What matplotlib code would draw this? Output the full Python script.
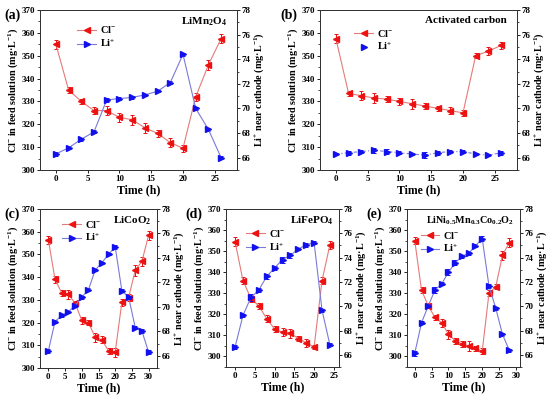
import matplotlib.pyplot as plt
from matplotlib.ticker import AutoMinorLocator
from matplotlib.lines import Line2D
import numpy as np

plt.rcParams['font.family'] = ['Liberation Serif', 'DejaVu Serif']
plt.rcParams['font.weight'] = 'bold'
plt.rcParams['mathtext.fontset'] = 'custom'
plt.rcParams['mathtext.rm'] = 'Liberation Serif:bold'
plt.rcParams['mathtext.it'] = 'Liberation Serif:bold'
plt.rcParams['mathtext.bf'] = 'Liberation Serif:bold'
plt.rcParams['mathtext.default'] = 'rm'

# --- data ---
t_a = [0, 2, 4, 6, 8, 10, 12, 14, 16, 18, 20, 22, 24, 26]
cl_a = [355, 335, 330, 326, 326, 323, 322, 318.5, 316, 312, 309.5, 332, 346, 357.5]
cl_a_err = [2, 1.2, 1.2, 1.5, 1.8, 1.8, 2.2, 2.2, 1.6, 1.8, 1.6, 1.8, 2.2, 1.8]
li_a = [66.3, 66.8, 67.5, 68.1, 70.7, 70.8, 70.9, 71.1, 71.4, 72.1, 74.4, 70.0, 68.3, 66.0]
li_a_err = [0.15, 0.12, 0.12, 0.12, 0.15, 0.1, 0.1, 0.1, 0.1, 0.1, 0.1, 0.12, 0.12, 0.12]

t_b = [0, 2, 4, 6, 8, 10, 12, 14, 16, 18, 20, 22, 24, 26]
cl_b = [357.5, 333.5, 332.5, 331.5, 331, 330, 329, 328, 327, 326, 325, 350, 352, 354.5]
cl_b_err = [2, 1.2, 2, 2.2, 1.2, 1.5, 2.2, 1.2, 1.2, 1.5, 1.2, 1, 1.8, 1.5]
li_b = [66.3, 66.4, 66.5, 66.6, 66.5, 66.4, 66.3, 66.2, 66.4, 66.5, 66.5, 66.3, 66.2, 66.4]
li_b_err = [0.12, 0.15, 0.12, 0.2, 0.2, 0.12, 0.1, 0.25, 0.15, 0.12, 0.12, 0.12, 0.1, 0.15]

t_c = [0, 2, 4, 6, 8, 10, 12, 14, 16, 18, 20, 22, 24, 26, 28, 30]
cl_c = [356.5, 339, 333, 332.5, 328.5, 321, 320, 313.5, 312.5, 307.5, 307, 329, 331, 343, 347, 358.5]
cl_c_err = [1.8, 1.5, 1.2, 2, 1.2, 1.5, 1.2, 2, 1.5, 1.5, 2, 1.5, 1.5, 2.5, 2, 2]
li_c = [66.4, 68.8, 69.3, 69.6, 70.1, 70.8, 71.4, 73.0, 73.6, 74.3, 74.9, 71.3, 70.8, 68.3, 68.0, 66.3]
li_c_err = [0.15, 0.12, 0.1, 0.1, 0.1, 0.12, 0.12, 0.1, 0.1, 0.1, 0.15, 0.12, 0.12, 0.12, 0.15, 0.15]

t_d = [0, 2, 4, 6, 8, 10, 12, 14, 16, 18, 20, 22, 24]
cl_d = [354.5, 336, 327.5, 324, 318, 313, 311.5, 311, 308.5, 306.5, 304.5, 336, 353]
cl_d_err = [2.2, 1.5, 1.5, 1.5, 1.8, 1.5, 2, 2, 1.2, 2, 1, 1.5, 2]
li_d = [66.65, 69.25, 70.72, 71.33, 72.45, 73.15, 73.84, 74.19, 74.71, 75.05, 75.23, 69.68, 66.82]
li_d_err = [0.15, 0.12, 0.25, 0.15, 0.2, 0.15, 0.25, 0.2, 0.12, 0.15, 0.15, 0.12, 0.12]

t_e = [0, 2, 4, 6, 8, 10, 12, 14, 16, 18, 20, 22, 24, 26, 28]
cl_e = [355, 331.5, 324, 318.5, 316, 310.5, 307.5, 306, 305, 304, 302.5, 330, 333, 348, 354]
cl_e_err = [1.5, 1.5, 1.2, 1.2, 2, 2, 1.5, 1.5, 2.5, 1.2, 1.5, 1.5, 1.2, 2, 2]
li_e = [66.13, 68.64, 70.03, 71.33, 71.85, 72.80, 73.58, 74.10, 74.36, 74.97, 75.57, 71.67, 69.85, 67.69, 66.39]
li_e_err = [0.2, 0.12, 0.12, 0.25, 0.12, 0.25, 0.2, 0.12, 0.12, 0.12, 0.2, 0.15, 0.12, 0.12, 0.12]

red_line = '#e57a7a'
red_mark = '#ee1111'
blue_line = '#7a7ad8'
blue_mark = '#1111ee'

W, H = 550, 398
fig = plt.figure(figsize=(5.5, 3.98), dpi=100)


def box(x0, x1, ytop, ybot):
    return [x0 / W, 1 - ybot / H, (x1 - x0) / W, (ybot - ytop) / H]


def draw_panel(rect, t, cl, cl_err, li, li_err, name, tag, tag_xy,
               xlim, xticks, ylim_l, leg_xy, li_style='-', name_size=8):
    ax = fig.add_axes(rect)
    ax2 = ax.twinx()

    ax.errorbar(t, cl, yerr=cl_err, fmt='<-', color=red_line, lw=0.8,
                mfc=red_mark, mec=red_mark, ms=4, ecolor=red_mark,
                elinewidth=0.7, capsize=1.5, capthick=0.7, zorder=3)
    ax2.errorbar(t, li, yerr=li_err, fmt='>', linestyle=li_style, color=blue_line, lw=0.8,
                 mfc=blue_mark, mec=blue_mark, ms=4, ecolor=blue_mark,
                 elinewidth=0.7, capsize=1.5, capthick=0.7)

    ax.set_xlim(*xlim)
    ax.set_xticks(xticks)
    ax.set_ylim(*ylim_l)
    ax.set_yticks(np.arange(300, 371, 10))
    ax2.set_ylim(65, 78)
    ax2.set_yticks(np.arange(66, 79, 2))
    ax.yaxis.set_minor_locator(AutoMinorLocator(2))
    ax2.yaxis.set_minor_locator(AutoMinorLocator(2))

    for a in (ax, ax2):
        a.tick_params(which='major', direction='out', length=2.5, width=0.6,
                      labelsize=6.5, pad=1)
        a.tick_params(which='minor', direction='out', length=1.5, width=0.5)
        for s in a.spines.values():
            s.set_linewidth(0.7)
            s.set_color('#333333')
        for lab in a.get_xticklabels() + a.get_yticklabels():
            lab.set_fontweight('bold')

    ax.set_xlabel('Time (h)', fontsize=8.5, fontweight='bold', labelpad=1)
    ax.set_ylabel('Cl$^{-}$ in feed solution (mg\u00b7L$^{-1}$)', fontsize=7.3,
                  fontweight='bold', labelpad=1)
    ax2.set_ylabel('Li$^{+}$ near cathode (mg\u00b7L$^{-1}$)', fontsize=7.3,
                   fontweight='bold', labelpad=1)

    ax.text(0.95, 0.965, name, transform=ax.transAxes, ha='right', va='top',
            fontsize=name_size, fontweight='bold')

    h_cl = Line2D([], [], color=red_line, lw=0.8, marker='<', ms=4,
                  mfc=red_mark, mec=red_mark)
    h_li = Line2D([], [], color=blue_line, lw=0.8, marker='>', ms=4,
                  mfc=blue_mark, mec=blue_mark, linestyle=li_style)
    if li_style != '-':
        h_li.set_color('none')
    ax2.legend([h_cl, h_li], ['Cl$^{-}$', 'Li$^{+}$'], loc='upper left',
               bbox_to_anchor=leg_xy, frameon=False, fontsize=7.5,
               handlelength=1.8, handletextpad=0.4, labelspacing=0.2,
               borderpad=0, borderaxespad=0)

    fig.text(tag_xy[0] / W, 1 - tag_xy[1] / H, tag, fontsize=10,
             fontweight='bold', va='center', ha='left')
    return ax, ax2


draw_panel(box(40, 237, 10, 170), t_a, cl_a, cl_a_err, li_a, li_a_err,
           'LiMn$_2$O$_4$', '(a)', (4, 15), (-2.5, 28.5), [0, 5, 10, 15, 20, 25],
           (300, 370), (0.19, 0.91))
draw_panel(box(320, 517, 10, 170), t_b, cl_b, cl_b_err, li_b, li_b_err,
           'Activated carbon', '(b)', (280, 15), (-2.5, 28.5), [0, 5, 10, 15, 20, 25],
           (300, 370), (0.175, 0.89), li_style=(0, (3, 2, 1, 2)))
draw_panel(box(40, 157, 209, 368), t_c, cl_c, cl_c_err, li_c, li_c_err,
           'LiCoO$_2$', '(c)', (4, 214), (-2.5, 32.5), [0, 5, 10, 15, 20, 25, 30],
           (300, 370), (0.19, 0.94))
draw_panel(box(226, 339, 209, 367), t_d, cl_d, cl_d_err, li_d, li_d_err,
           'LiFePO$_4$', '(d)', (185, 214), (-2.3, 26.3), [0, 5, 10, 15, 20, 25],
           (295, 370), (0.175, 0.88))
draw_panel(box(407, 520, 209, 367), t_e, cl_e, cl_e_err, li_e, li_e_err,
           'LiNi$_{0.5}$Mn$_{0.3}$Co$_{0.2}$O$_2$', '(e)', (366, 214), (-2.3, 31.2),
           [0, 5, 10, 15, 20, 25, 30], (295, 370), (0.12, 0.87), name_size=7.3)

fig.savefig('out.png', dpi=100)
